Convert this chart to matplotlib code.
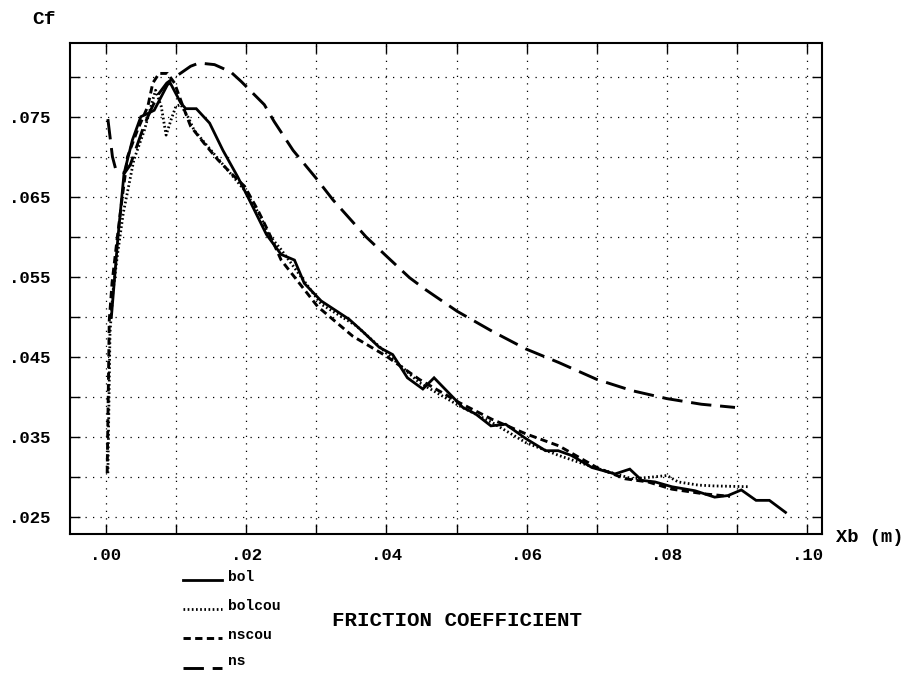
import matplotlib
matplotlib.use("Agg")
import matplotlib.pyplot as plt
from matplotlib.lines import Line2D

# ---------------- data ----------------
bol_x = [0.0008, 0.0017, 0.0026, 0.0038, 0.005, 0.006, 0.0069, 0.0088, 0.0092, 0.0107,
         0.0114, 0.0129, 0.0148, 0.0167, 0.0188, 0.0207, 0.0229, 0.025, 0.0269, 0.0283,
         0.0307, 0.0347, 0.0366, 0.039, 0.0409, 0.043, 0.0452, 0.0468, 0.0509, 0.0527,
         0.0549, 0.057, 0.0599, 0.0627, 0.0645, 0.0664, 0.0693, 0.0726, 0.0747, 0.0764,
         0.0783, 0.0807, 0.084, 0.0868, 0.0887, 0.0906, 0.0927, 0.0946, 0.0969]
bol_y = [0.050, 0.0596, 0.0679, 0.0721, 0.075, 0.0754, 0.0758, 0.079, 0.0792, 0.0767,
         0.076, 0.076, 0.0742, 0.0708, 0.0675, 0.0642, 0.0603, 0.0578, 0.0571, 0.0542,
         0.052, 0.0497, 0.0482, 0.0462, 0.0453, 0.0424, 0.041, 0.0424, 0.0387, 0.0379,
         0.0364, 0.0366, 0.0348, 0.0333, 0.0333, 0.0327, 0.0312, 0.0304, 0.031, 0.0296,
         0.0294, 0.0288, 0.0283, 0.0275, 0.0277, 0.0284, 0.0271, 0.0271, 0.0256]

bolcou_x = [0.0003, 0.0006, 0.001, 0.0017, 0.0025, 0.0033, 0.004, 0.0055, 0.0067, 0.0071,
            0.0079, 0.0086, 0.0093, 0.010, 0.0107, 0.0117, 0.0126, 0.015, 0.0174, 0.0198,
            0.0221, 0.0231, 0.025, 0.0307, 0.0357, 0.040, 0.0447, 0.0504, 0.0551, 0.0599,
            0.0646, 0.070, 0.075, 0.0778, 0.080, 0.0816, 0.0845, 0.0868, 0.0918]
bolcou_y = [0.0305, 0.048, 0.053, 0.058, 0.063, 0.0665, 0.0696, 0.0733, 0.0771, 0.0783,
            0.0763, 0.0727, 0.0746, 0.0763, 0.0765, 0.075, 0.0733, 0.0708, 0.0683, 0.0658,
            0.0625, 0.0604, 0.0584, 0.0516, 0.0489, 0.0455, 0.0418, 0.0389, 0.0368, 0.0343,
            0.0327, 0.0311, 0.0298, 0.030, 0.0302, 0.0294, 0.029, 0.0289, 0.0288]

nscou_x = [0.0002, 0.0005, 0.0009, 0.0016, 0.0023, 0.0031, 0.0045, 0.006, 0.0067, 0.0076,
           0.0088, 0.0098, 0.011, 0.0121, 0.014, 0.016, 0.0179, 0.0198, 0.0217, 0.0231,
           0.025, 0.0302, 0.0352, 0.040, 0.0447, 0.0504, 0.0551, 0.0599, 0.0646, 0.070,
           0.074, 0.0773, 0.0807, 0.0854, 0.089]
nscou_y = [0.0305, 0.0496, 0.0543, 0.0596, 0.0646, 0.0700, 0.0733, 0.0763, 0.0792, 0.0804,
           0.0804, 0.0792, 0.0763, 0.0738, 0.0717, 0.0696, 0.0679, 0.0663, 0.0633, 0.0608,
           0.0571, 0.0513, 0.0476, 0.0451, 0.0422, 0.0393, 0.0372, 0.0354, 0.0339, 0.0312,
           0.0298, 0.0294, 0.0285, 0.0279, 0.0276]

ns_x = [0.0003, 0.00095, 0.0014, 0.0021, 0.0027, 0.0035, 0.0045, 0.0055, 0.0065, 0.0075,
        0.0087, 0.0098, 0.0121, 0.0133, 0.0155, 0.0178, 0.0193, 0.0226, 0.0240, 0.0267,
        0.030, 0.0324, 0.0371, 0.040, 0.0433, 0.0456, 0.0501, 0.0551, 0.0599, 0.0646,
        0.070, 0.075, 0.080, 0.0849, 0.0897]
ns_y = [0.0747, 0.0700, 0.0685, 0.0681, 0.0680, 0.0690, 0.0715, 0.0740, 0.0760, 0.0778,
        0.0792, 0.0799, 0.0813, 0.0817, 0.0815, 0.0806, 0.0794, 0.0765, 0.0744, 0.0708,
        0.0673, 0.0646, 0.0600, 0.0576, 0.0549, 0.0534, 0.0507, 0.0482, 0.0460, 0.0443,
        0.0422, 0.0408, 0.0398, 0.0391, 0.0387]

x_ticks = [0.00, 0.01, 0.02, 0.03, 0.04, 0.05, 0.06, 0.07, 0.08, 0.09, 0.10]
x_labels = [".00", "", ".02", "", ".04", "", ".06", "", ".08", "", ".10"]
y_ticks = [0.025, 0.030, 0.035, 0.040, 0.045, 0.050, 0.055, 0.060, 0.065, 0.070, 0.075, 0.080]
y_labels = [".025", "", ".035", "", ".045", "", ".055", "", ".065", "", ".075", ""]

series_names = ["bol", "bolcou", "nscou", "ns"]

# ---------------- figure ----------------
W, H = 911, 673
fig = plt.figure(figsize=(W / 100, H / 100), dpi=100)
fig.patch.set_facecolor("white")
FONT = "Liberation Mono"

ax = fig.add_axes([70 / W, 1 - 534 / H, (822 - 70) / W, (534 - 43) / H])
ax.set_xlim(-0.0051, 0.1021)
ax.set_ylim(0.0229, 0.0842)

styles = {
    "bol": dict(linestyle="-", lw=2.0),
    "bolcou": dict(linestyle=(0, (0.6, 0.9)), lw=2.0),
    "nscou": dict(linestyle=(0, (2.5, 1.5)), lw=2.1),
    "ns": dict(linestyle=(0, (7, 3)), lw=2.1),
}
data = {"bol": (bol_x, bol_y), "bolcou": (bolcou_x, bolcou_y),
        "nscou": (nscou_x, nscou_y), "ns": (ns_x, ns_y)}
for name in series_names:
    xs, ys = data[name]
    ax.plot(xs, ys, color="black", solid_joinstyle="miter", **styles[name])

ax.set_xticks(x_ticks)
ax.set_xticklabels(x_labels, fontfamily=FONT, fontweight="bold", fontsize=12.5)
ax.set_yticks(y_ticks)
ax.set_yticklabels(y_labels, fontfamily=FONT, fontweight="bold", fontsize=12.5)
ax.tick_params(direction="in", length=7, width=1.0, top=True, right=True,
               colors="black", pad=14)
ax.tick_params(axis="x", pad=10)
ax.grid(True, color="black", linestyle=(0, (1, 5)), linewidth=0.9)
for s in ax.spines.values():
    s.set_linewidth(1.5)
    s.set_color("black")

# axis titles
fig.text(32 / W, 1 - 20 / H, "Cf", fontfamily=FONT, fontweight="bold", fontsize=14,
         ha="left", va="center")
fig.text(836 / W, 1 - 538 / H, "Xb (m)", fontfamily=FONT, fontweight="bold", fontsize=13.5,
         ha="left", va="center")
fig.text(457 / W, 1 - 620 / H, "FRICTION COEFFICIENT", fontfamily=FONT, fontweight="bold",
         fontsize=15, ha="center", va="center")

# legend (drawn manually, like the reference)
leg_y_text = [577, 606, 635, 661]
leg_y_line = [580, 609, 638, 668]
for name, yt, yl in zip(series_names, leg_y_text, leg_y_line):
    st = dict(styles[name])
    fig.add_artist(Line2D([183 / W, 222 / W], [1 - yl / H, 1 - yl / H],
                          color="black", transform=fig.transFigure, **st))
    fig.text(228 / W, 1 - yt / H, name, fontfamily=FONT, fontweight="bold", fontsize=10.5,
             ha="left", va="center")

fig.savefig("out.png", dpi=100, facecolor="white")
